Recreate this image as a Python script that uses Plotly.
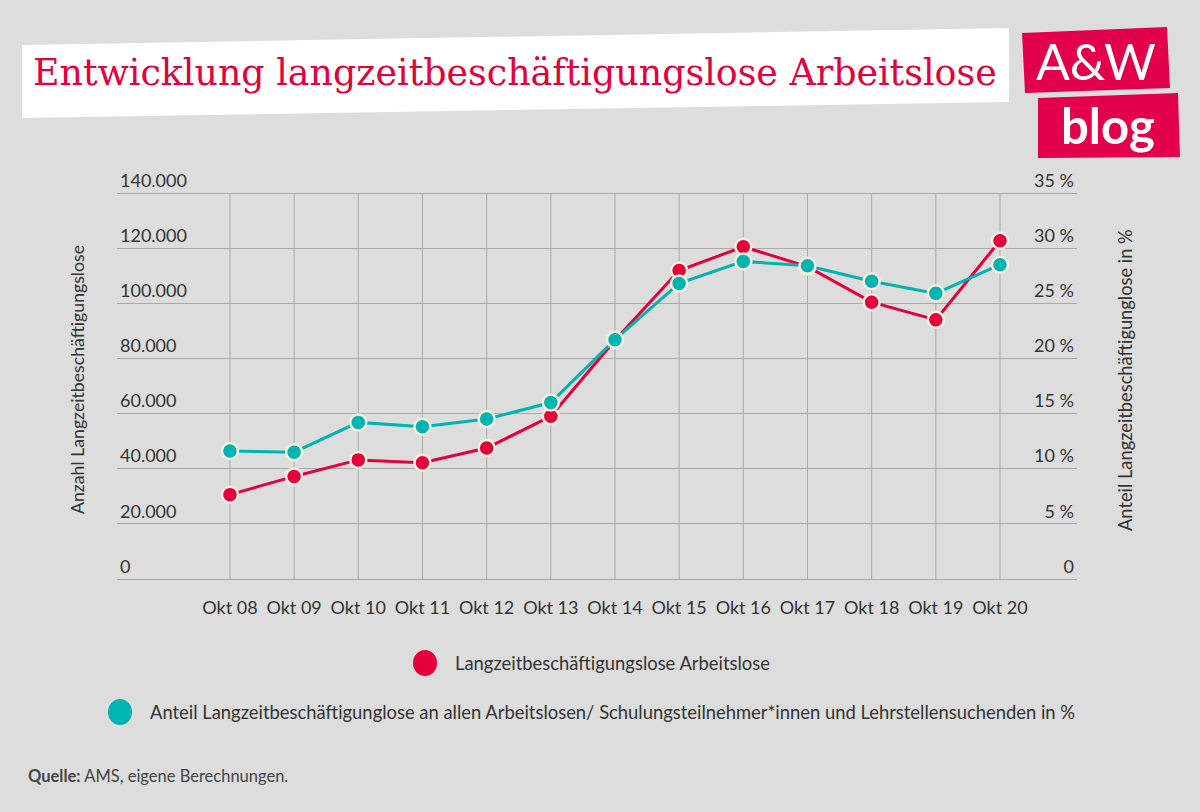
import plotly.graph_objects as go

categories = ["Okt 08", "Okt 09", "Okt 10", "Okt 11", "Okt 12", "Okt 13", "Okt 14",
              "Okt 15", "Okt 16", "Okt 17", "Okt 18", "Okt 19", "Okt 20"]
anzahl = [30600, 37200, 43200, 42200, 47500, 59000, 86600,
          111900, 120500, 113300, 100400, 94000, 122700]
anteil = [11.6, 11.5, 14.2, 13.8, 14.5, 16.0, 21.7,
          26.8, 28.8, 28.4, 27.0, 25.9, 28.5]
name_anzahl = "Langzeitbeschäftigungslose Arbeitslose"
name_anteil = ("Anteil Langzeitbeschäftigunglose an allen Arbeitslosen/ "
               "Schulungsteilnehmer*innen und Lehrstellensuchenden in %")
left_ticks = [0, 20000, 40000, 60000, 80000, 100000, 120000, 140000]
left_labels = ["0", "20.000", "40.000", "60.000", "80.000", "100.000", "120.000", "140.000"]
right_ticks = [0, 5, 10, 15, 20, 25, 30, 35]
right_labels = ["0", "5 %", "10 %", "15 %", "20 %", "25 %", "30 %", "35 %"]

RED = "#e4003a"
TEAL = "#00b4b0"
BG = "#dddddd"
CREAM = "#f3efdc"
GRID = "#a9a9a9"
TXT = "#333333"
FONT = "Lato"

W, H = 1200, 812
L, R, T, B = 117, 1077, 193, 579   # 140.000 gridline at T, 0 at B
T2 = 150                            # top of plotting area (room for top label)
YMAX_L = 140000 * (B - T2) / (B - T)
YMAX_R = 35 * (B - T2) / (B - T)


def px(x):
    return (x - L) / (R - L)


def py(y):
    return (B - y) / (B - T2)


fig = go.Figure()
fig.add_trace(go.Scatter(
    x=categories, y=anzahl, name=name_anzahl, mode="lines+markers",
    line=dict(color=RED, width=3),
    marker=dict(color=RED, size=16, line=dict(color=CREAM, width=2.5)),
    yaxis="y", showlegend=False))
fig.add_trace(go.Scatter(
    x=categories, y=anteil, name=name_anteil, mode="lines+markers",
    line=dict(color=TEAL, width=3),
    marker=dict(color=TEAL, size=16, line=dict(color=CREAM, width=2.5)),
    yaxis="y2", showlegend=False))

shapes = []
# vertical grid lines from 0 to the top gridline
for c in categories:
    shapes.append(dict(type="line", xref="x", yref="y", x0=c, x1=c, y0=0, y1=left_ticks[-1],
                       line=dict(color=GRID, width=1), layer="below"))


def path(pts):
    return "M " + " L ".join(f"{px(x):.5f},{py(y):.5f}" for x, y in pts) + " Z"


shapes.append(dict(type="path", xref="paper", yref="paper",
                   path=path([(22, 45), (1009, 28), (1009, 102), (22, 118)]),
                   fillcolor="white", line=dict(width=0), layer="below"))
LOGO = "#e2004a"
shapes.append(dict(type="path", xref="paper", yref="paper",
                   path=path([(1022, 33), (1167, 27), (1170, 88), (1025, 93)]),
                   fillcolor=LOGO, line=dict(width=0)))
shapes.append(dict(type="path", xref="paper", yref="paper",
                   path=path([(1038, 98), (1178, 93), (1180, 157), (1038, 158)]),
                   fillcolor=LOGO, line=dict(width=0)))
for cx, cy, col in [(425, 663, RED), (120, 712, TEAL)]:
    shapes.append(dict(type="circle", xref="paper", yref="paper",
                       x0=px(cx - 12), x1=px(cx + 12), y0=py(cy + 13), y1=py(cy - 13),
                       fillcolor=col, line=dict(width=0)))

annotations = [
    dict(text="Entwicklung langzeitbeschäftigungslose Arbeitslose", x=px(31), y=py(73),
         xref="paper", yref="paper", xanchor="left", yanchor="middle", showarrow=False,
         font=dict(family="DejaVu Serif", size=36.4, color=RED)),
    dict(text="A&W", x=px(1096), y=py(61), xref="paper", yref="paper",
         xanchor="center", yanchor="middle", showarrow=False,
         font=dict(family="Lato", size=50, color="white")),
    dict(text="<b>blog</b>", x=px(1108), y=py(125), xref="paper", yref="paper",
         xanchor="center", yanchor="middle", showarrow=False,
         font=dict(family="Lato", size=49, color="white")),
    dict(text="Anzahl Langzeitbeschäftigungslose", x=px(77), y=py(380), xref="paper", yref="paper",
         xanchor="center", yanchor="middle", showarrow=False, textangle=-90,
         font=dict(family=FONT, size=17.7, color=TXT)),
    dict(text="Anteil Langzeitbeschäftigunglose in %", x=px(1125), y=py(380), xref="paper", yref="paper",
         xanchor="center", yanchor="middle", showarrow=False, textangle=-90,
         font=dict(family=FONT, size=18.3, color=TXT)),
    dict(text=name_anzahl, x=px(453), y=py(663), xref="paper", yref="paper",
         xanchor="left", yanchor="middle", showarrow=False,
         font=dict(family=FONT, size=18.4, color=TXT)),
    dict(text=name_anteil, x=px(148), y=py(712), xref="paper", yref="paper",
         xanchor="left", yanchor="middle", showarrow=False,
         font=dict(family=FONT, size=18.4, color=TXT)),
    dict(text="<b>Quelle:</b> AMS, eigene Berechnungen.", x=px(26), y=py(776), xref="paper", yref="paper",
         xanchor="left", yanchor="middle", showarrow=False,
         font=dict(family=FONT, size=16.5, color="#444444")),
]

fig.update_layout(
    width=W, height=H,
    margin=dict(l=L, r=W - R, t=T2, b=H - B, pad=0),
    paper_bgcolor=BG, plot_bgcolor=BG,
    font=dict(family=FONT, size=17, color=TXT),
    shapes=shapes, annotations=annotations,
    xaxis=dict(type="category", range=[-1.76, 13.2], showgrid=False,
               zeroline=False, showline=True, linecolor=GRID, linewidth=1, ticks="",
               ticklabelstandoff=12, tickfont=dict(family=FONT, size=18, color=TXT)),
    yaxis=dict(range=[0, YMAX_L], tickvals=left_ticks, ticktext=left_labels,
               ticklabelposition="inside top", showgrid=True, gridcolor=GRID,
               gridwidth=1, zeroline=False, showline=False, ticks="",
               tickfont=dict(family=FONT, size=18, color=TXT)),
    yaxis2=dict(range=[0, YMAX_R], tickvals=right_ticks, ticktext=right_labels, overlaying="y",
                side="right", ticklabelposition="inside top", showgrid=False,
                zeroline=False, showline=False, ticks="",
                tickfont=dict(family=FONT, size=18, color=TXT)),
)

fig.write_html("out.html", config={"displayModeBar": False},
               post_script="document.body.style.margin='0';")
